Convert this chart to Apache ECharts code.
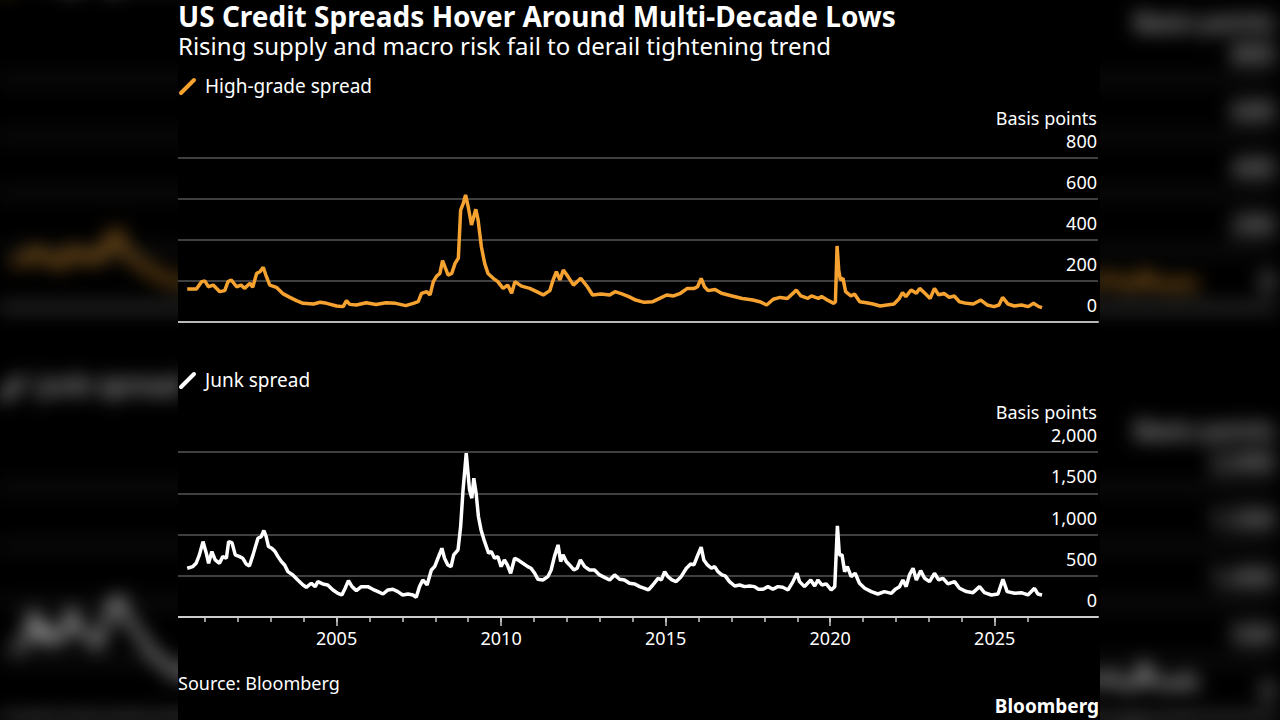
<!DOCTYPE html>
<html>
<head>
<meta charset="utf-8">
<title>US Credit Spreads Hover Around Multi-Decade Lows</title>
<script src="https://cdn.jsdelivr.net/npm/echarts@6/dist/echarts.min.js"></script>
<style>
  html, body { margin: 0; padding: 0; background: #000; width: 1280px; height: 720px; overflow: hidden; }
  #bg { position: absolute; left: 178px; top: 0; width: 922px; height: 720px;
        transform: scale(1.388); transform-origin: 461px 360px; filter: blur(7px) brightness(0.9); }
  #chart { position: absolute; left: 178px; top: 0; width: 922px; height: 720px; background: #000; }
</style>
</head>
<body>
<div id="bg"></div>
<div id="chart"></div>
<script>
// decimal years / basis points
var igDates = [2000.46, 2000.74, 2000.90, 2001.00, 2001.10, 2001.25, 2001.45, 2001.60, 2001.70, 2001.80,
  2001.96, 2002.10, 2002.20, 2002.37, 2002.45, 2002.57, 2002.67, 2002.77, 2002.85, 2002.97,
  2003.17, 2003.38, 2003.58, 2003.78, 2003.98, 2004.30, 2004.50, 2004.70, 2005.00, 2005.20,
  2005.30, 2005.40, 2005.60, 2005.90, 2006.20, 2006.50, 2006.80, 2007.10, 2007.33, 2007.48,
  2007.58, 2007.74, 2007.84, 2007.94, 2008.04, 2008.14, 2008.22, 2008.29, 2008.39, 2008.50,
  2008.60, 2008.70, 2008.77, 2008.85, 2008.92, 2009.00, 2009.10, 2009.23, 2009.30, 2009.40,
  2009.50, 2009.60, 2009.76, 2009.90, 2010.06, 2010.20, 2010.32, 2010.42, 2010.62, 2010.87,
  2011.08, 2011.28, 2011.48, 2011.58, 2011.68, 2011.79, 2011.89, 2012.00, 2012.20, 2012.42,
  2012.62, 2012.78, 2013.04, 2013.30, 2013.46, 2013.67, 2013.88, 2014.09, 2014.35, 2014.61,
  2014.82, 2015.03, 2015.24, 2015.45, 2015.66, 2015.87, 2015.97, 2016.08, 2016.18, 2016.29,
  2016.50, 2016.70, 2017.02, 2017.33, 2017.65, 2017.86, 2018.07, 2018.27, 2018.48, 2018.70,
  2018.85, 2018.97, 2019.11, 2019.32, 2019.43, 2019.64, 2019.74, 2019.95, 2020.11, 2020.16,
  2020.21, 2020.26, 2020.31, 2020.39, 2020.47, 2020.63, 2020.74, 2020.90, 2021.10, 2021.30,
  2021.52, 2021.73, 2021.94, 2022.10, 2022.20, 2022.30, 2022.46, 2022.62, 2022.72, 2022.88,
  2023.04, 2023.17, 2023.30, 2023.46, 2023.62, 2023.77, 2023.93, 2024.14, 2024.35, 2024.58,
  2024.77, 2024.98, 2025.13, 2025.24, 2025.40, 2025.60, 2025.81, 2026.02, 2026.18, 2026.34,
  2026.44];
var igSpread = [161, 161, 197, 200, 172, 180, 148, 153, 197, 205,
  172, 180, 164, 189, 169, 237, 245, 267, 229, 180,
  169, 137, 120, 104, 91, 88, 96, 91, 78, 75,
  104, 86, 83, 94, 85, 94, 91, 80, 91, 99,
  140, 148, 132, 197, 224, 237, 299, 270, 229, 237,
  286, 311, 546, 579, 620, 562, 473, 550, 498, 367,
  286, 237, 213, 197, 164, 180, 140, 197, 175, 164,
  148, 132, 153, 205, 245, 205, 254, 229, 180, 213,
  172, 132, 137, 132, 148, 137, 124, 107, 96, 99,
  115, 132, 127, 140, 164, 164, 172, 213, 172, 153,
  159, 140, 127, 115, 107, 99, 83, 111, 120, 115,
  137, 156, 127, 115, 127, 115, 124, 104, 91, 99,
  371, 254, 205, 213, 148, 127, 137, 99, 94, 88,
  78, 83, 88, 115, 143, 124, 156, 140, 164, 140,
  115, 164, 132, 140, 120, 127, 99, 91, 88, 107,
  83, 75, 83, 120, 88, 78, 83, 75, 91, 75,
  70];

var hyDates = [2000.46, 2000.63, 2000.73, 2000.83, 2000.94, 2001.04, 2001.11, 2001.21, 2001.31, 2001.44,
  2001.54, 2001.65, 2001.72, 2001.82, 2001.92, 2002.05, 2002.15, 2002.25, 2002.35, 2002.46,
  2002.61, 2002.71, 2002.79, 2002.86, 2002.93, 2003.03, 2003.13, 2003.22, 2003.32, 2003.42,
  2003.52, 2003.67, 2003.82, 2003.98, 2004.08, 2004.23, 2004.35, 2004.43, 2004.58, 2004.73,
  2004.89, 2005.04, 2005.16, 2005.26, 2005.36, 2005.47, 2005.60, 2005.75, 2005.95, 2006.10,
  2006.26, 2006.41, 2006.56, 2006.71, 2006.86, 2007.01, 2007.17, 2007.32, 2007.42, 2007.52,
  2007.62, 2007.75, 2007.88, 2007.98, 2008.08, 2008.20, 2008.28, 2008.38, 2008.48, 2008.56,
  2008.69, 2008.77, 2008.84, 2008.94, 2009.04, 2009.11, 2009.17, 2009.24, 2009.31, 2009.39,
  2009.48, 2009.55, 2009.62, 2009.70, 2009.80, 2009.90, 2010.00, 2010.10, 2010.19, 2010.29,
  2010.41, 2010.51, 2010.66, 2010.81, 2010.91, 2011.02, 2011.12, 2011.27, 2011.42, 2011.52,
  2011.62, 2011.73, 2011.81, 2011.88, 2011.98, 2012.08, 2012.21, 2012.31, 2012.41, 2012.54,
  2012.69, 2012.84, 2012.99, 2013.14, 2013.30, 2013.45, 2013.60, 2013.75, 2013.90, 2014.06,
  2014.21, 2014.36, 2014.48, 2014.61, 2014.77, 2014.87, 2014.97, 2015.07, 2015.19, 2015.32,
  2015.47, 2015.63, 2015.76, 2015.86, 2015.98, 2016.08, 2016.16, 2016.27, 2016.39, 2016.49,
  2016.59, 2016.71, 2016.81, 2016.94, 2017.10, 2017.25, 2017.40, 2017.55, 2017.70, 2017.82,
  2017.96, 2018.11, 2018.26, 2018.41, 2018.56, 2018.72, 2018.87, 2018.99, 2019.07, 2019.22,
  2019.41, 2019.53, 2019.63, 2019.75, 2019.88, 2020.03, 2020.14, 2020.22, 2020.28, 2020.36,
  2020.44, 2020.52, 2020.64, 2020.76, 2020.89, 2021.05, 2021.25, 2021.45, 2021.65, 2021.86,
  2021.98, 2022.11, 2022.21, 2022.31, 2022.41, 2022.52, 2022.62, 2022.75, 2022.87, 2023.02,
  2023.17, 2023.30, 2023.43, 2023.58, 2023.78, 2023.93, 2024.14, 2024.34, 2024.54, 2024.69,
  2024.90, 2025.10, 2025.25, 2025.38, 2025.61, 2025.81, 2026.01, 2026.21, 2026.31, 2026.44];
var hySpread = [591, 611, 651, 753, 914, 773, 651, 793, 692, 651,
  732, 712, 914, 902, 753, 732, 712, 643, 619, 753,
  955, 975, 1048, 975, 854, 833, 793, 732, 672, 631,
  550, 510, 449, 388, 360, 409, 368, 429, 401, 388,
  328, 287, 267, 348, 441, 368, 320, 368, 368, 336,
  308, 279, 328, 336, 308, 267, 279, 267, 239, 368,
  449, 388, 570, 611, 712, 833, 712, 631, 611, 753,
  813, 1097, 1522, 1987, 1542, 1440, 1683, 1501, 1218, 1056,
  935, 854, 773, 793, 712, 732, 611, 692, 631, 530,
  712, 692, 651, 611, 591, 530, 457, 449, 489, 570,
  732, 874, 672, 753, 672, 631, 570, 591, 692, 611,
  570, 570, 510, 481, 449, 510, 457, 449, 409, 401,
  368, 348, 328, 388, 469, 449, 550, 489, 449, 429,
  489, 591, 643, 631, 753, 846, 692, 631, 591, 611,
  550, 510, 498, 429, 376, 388, 368, 376, 368, 336,
  336, 368, 336, 368, 360, 328, 429, 530, 429, 368,
  449, 376, 449, 388, 401, 328, 368, 1105, 753, 753,
  550, 611, 489, 530, 409, 348, 308, 279, 308, 287,
  336, 368, 449, 368, 510, 591, 449, 562, 469, 429,
  530, 449, 469, 401, 429, 348, 308, 295, 368, 295,
  267, 279, 457, 308, 287, 295, 267, 348, 279, 267];

var yearTicks = [2001, 2002, 2003, 2004, 2005, 2006, 2007, 2008, 2009, 2010, 2011, 2012, 2013,
  2014, 2015, 2016, 2017, 2018, 2019, 2020, 2021, 2022, 2023, 2024, 2025, 2026];
var yearLabels = [2005, 2010, 2015, 2020, 2025];

var FONT = '"Noto Sans", "DejaVu Sans", sans-serif';
var ORANGE = '#f5a231';
var X_MIN = 2000.18, X_MAX = 2028.14;

function pairs(xs, ys) {
  return xs.map(function (x, i) { return [x, ys[i]]; });
}

function buildOption() {
  var gridLine = { show: true, lineStyle: { color: '#555555', width: 1.5 } };
  var yLabel = {
    inside: true, margin: 1, verticalAlign: 'bottom', padding: [0, 0, 8, 0],
    color: '#ffffff', fontSize: 18, fontFamily: FONT,
    formatter: function (v) { return v.toLocaleString('en-US'); }
  };
  return {
    backgroundColor: '#000',
    animation: false,
    textStyle: { fontFamily: FONT },
    grid: [
      { left: 0, right: 2, top: 158, height: 164 },
      { left: 0, right: 2, top: 452, height: 165 }
    ],
    xAxis: [
      { gridIndex: 0, type: 'value', min: X_MIN, max: X_MAX,
        axisLine: { show: true, lineStyle: { color: '#b8b8b8', width: 2 } },
        axisTick: { show: false }, axisLabel: { show: false }, splitLine: { show: false } },
      { gridIndex: 1, type: 'value', min: X_MIN, max: X_MAX, position: 'bottom',
        axisLine: { show: true, lineStyle: { color: '#cccccc', width: 2 } },
        axisTick: { show: true, customValues: yearTicks, length: 5, lineStyle: { color: '#cccccc', width: 1.5 } },
        axisLabel: { show: false }, splitLine: { show: false } },
      { gridIndex: 1, type: 'value', min: X_MIN, max: X_MAX, position: 'bottom',
        axisLine: { show: false },
        axisTick: { show: true, customValues: yearLabels, length: 9, lineStyle: { color: '#cccccc', width: 1.5 } },
        axisLabel: { show: true, customValues: yearLabels, margin: 12, color: '#ffffff', fontSize: 18,
          fontFamily: FONT, formatter: function (v) { return String(Math.round(v)); } },
        splitLine: { show: false } }
    ],
    yAxis: [
      { gridIndex: 0, type: 'value', position: 'right', min: 0, max: 800, interval: 200,
        axisLine: { show: false }, axisTick: { show: false }, splitLine: gridLine, axisLabel: yLabel },
      { gridIndex: 1, type: 'value', position: 'right', min: 0, max: 2000, interval: 500,
        axisLine: { show: false }, axisTick: { show: false }, splitLine: gridLine, axisLabel: yLabel }
    ],
    series: [
      { name: 'High-grade spread', type: 'line', xAxisIndex: 0, yAxisIndex: 0,
        data: pairs(igDates, igSpread), showSymbol: false,
        lineStyle: { color: ORANGE, width: 3.5 }, itemStyle: { color: ORANGE } },
      { name: 'Junk spread', type: 'line', xAxisIndex: 1, yAxisIndex: 1,
        data: pairs(hyDates, hySpread), showSymbol: false,
        lineStyle: { color: '#ffffff', width: 3.5 }, itemStyle: { color: '#ffffff' } }
    ],
    graphic: [
      { type: 'text', x: 0, y: 16, style: { text: 'US Credit Spreads Hover Around Multi-Decade Lows',
        font: 'bold 28px ' + FONT, fill: '#ffffff', verticalAlign: 'middle' } },
      { type: 'text', x: 0, y: 45, style: { text: 'Rising supply and macro risk fail to derail tightening trend',
        font: '24px ' + FONT, fill: '#ffffff', verticalAlign: 'middle' } },

      { type: 'line', shape: { x1: 3, y1: 93, x2: 16, y2: 80 },
        style: { stroke: ORANGE, lineWidth: 4, lineCap: 'round' } },
      { type: 'text', x: 27, y: 86, style: { text: 'High-grade spread',
        font: '19px ' + FONT, fill: '#ffffff', verticalAlign: 'middle' } },
      { type: 'text', x: 919, y: 118, style: { text: 'Basis points',
        font: '18px ' + FONT, fill: '#ffffff', align: 'right', verticalAlign: 'middle' } },

      { type: 'line', shape: { x1: 3, y1: 387, x2: 16, y2: 374 },
        style: { stroke: '#ffffff', lineWidth: 4, lineCap: 'round' } },
      { type: 'text', x: 27, y: 380, style: { text: 'Junk spread',
        font: '19px ' + FONT, fill: '#ffffff', verticalAlign: 'middle' } },
      { type: 'text', x: 919, y: 412, style: { text: 'Basis points',
        font: '18px ' + FONT, fill: '#ffffff', align: 'right', verticalAlign: 'middle' } },

      { type: 'text', x: 0, y: 683, style: { text: 'Source: Bloomberg',
        font: '18px ' + FONT, fill: '#ffffff', verticalAlign: 'middle' } },
      { type: 'text', x: 921, y: 706, style: { text: 'Bloomberg',
        font: 'bold 19px ' + FONT, fill: '#ffffff', align: 'right', verticalAlign: 'middle' } }
    ]
  };
}

// blurred, enlarged copy behind, like the reference's pillarbox
var bgChart = echarts.init(document.getElementById('bg'), null, { renderer: 'canvas' });
bgChart.setOption(buildOption());

var chart = echarts.init(document.getElementById('chart'), null, { renderer: 'svg' });
chart.setOption(buildOption());
</script>
</body>
</html>
